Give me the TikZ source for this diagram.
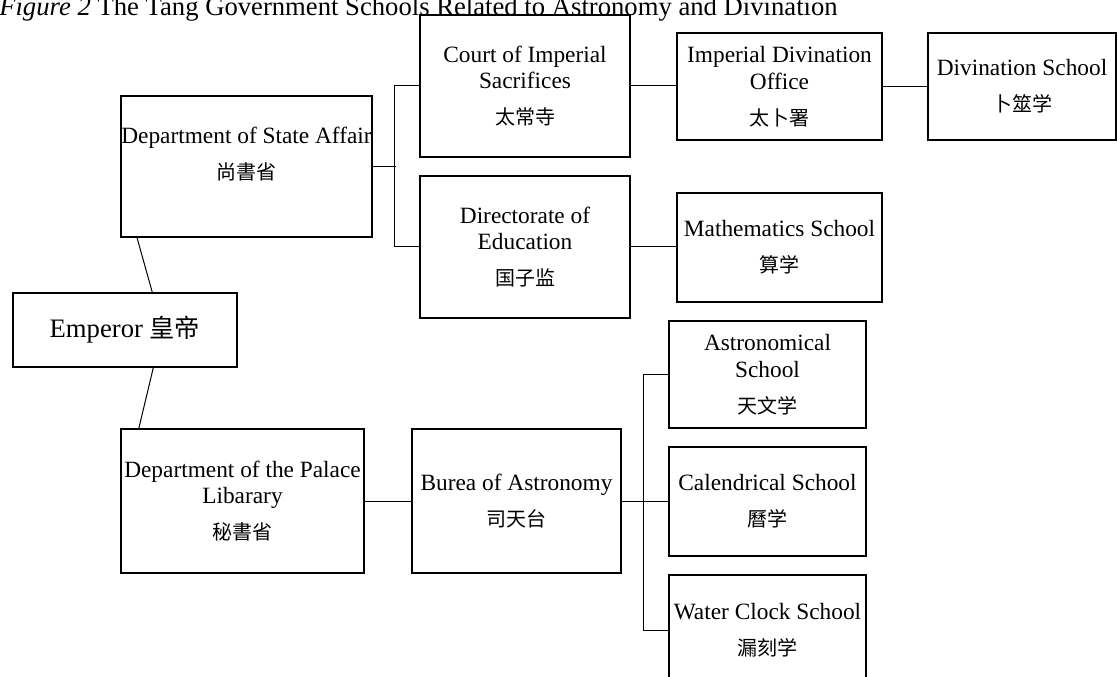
\documentclass[tikz,border=0pt]{standalone}
\usepackage{fontspec}
\setmainfont{Liberation Serif}
\newfontfamily\cjk{Noto Sans CJK SC}
\usetikzlibrary{positioning}
\usetikzlibrary{calc}
\tikzset{bx/.style 2 args={draw, line width=0.9pt, align=center, inner sep=0pt,
  minimum width=#1*0.75pt, minimum height=#2*0.75pt, font=\fontsize{17.5}{20}\selectfont}}
\tikzset{ln/.style={line width=0.75pt}}
\newcommand{\zh}[1]{{\cjk\fontsize{15}{19}\selectfont #1}}

\begin{document}
\begin{tikzpicture}[x=0.75pt,y=-0.75pt]
\useasboundingbox (0,0) rectangle (1117,677);

\node[anchor=base west, inner sep=0pt, font=\fontsize{20}{24}\selectfont] (title) at (-1,15.5)
 {\textit{Figure 2} The Tang Government Schools Related to Astronomy and Divination};

\node[bx={210}{142}] (court) at (525,86) {Court of Imperial\\Sacrifices\\[7pt]\zh{太常寺}};
\node[bx={205}{107}] (divoff) at (779.5,86.5) {Imperial Divination\\Office\\[7pt]\zh{太卜署}};
\node[bx={188}{107}] (divsch) at (1022,86.5) {Divination School\\[7pt]\zh{卜筮学}};
\node[bx={251}{141}] (state) at (246.5,166.5) {Department of State Affair\\[7pt]\zh{尚書省}\\[0pt]\mbox{}};
\node[bx={210}{142}] (direct) at (525,247) {Directorate of\\Education\\[7pt]\zh{国子监}};
\node[bx={205}{109}] (math) at (779.5,247.5) {Mathematics School\\[7pt]\zh{算学}};
\node[bx={224}{74}, font=\fontsize{20}{24}\selectfont] (emp) at (125,330) {Emperor \zh{\fontsize{19}{24}\selectfont 皇帝}};
\node[bx={243}{144}] (palace) at (242.5,501) {Department of the Palace\\Libarary\\[7pt]\zh{秘書省}};
\node[bx={209}{144}] (burea) at (516.5,501) {Burea of Astronomy\\[7pt]\zh{司天台}};
\node[bx={197}{107}] (astro) at (767.5,374.5) {Astronomical\\School\\[7pt]\zh{天文学}};
\node[bx={197}{109}] (cal) at (767.5,501.5) {Calendrical School\\[7pt]\zh{曆学}};
\node[bx={197}{110}] (water) at (767.5,630) {Water Clock School\\[7pt]\zh{漏刻学}};

\draw[ln] (state.213) -- (emp.54);
\draw[ln] (emp.307) -- (palace.145);

\draw[ln] (state.east) -- ++(23,0);
\draw[ln] (court.west) -- ++(-25,0) |- (direct.west);
\draw[ln] (court.east) -- (court.east -| divoff.west);
\draw[ln] (divoff.east) -- (divoff.east -| divsch.west);
\draw[ln] (direct.east) -- (direct.east -| math.west);

\draw[ln] (palace.east) -- (palace.east -| burea.west);
\draw[ln] (burea.east) -- ++(23,0) coordinate (jb);
\draw[ln] (astro.west) -- ++(-25,0) |- (water.west);
\draw[ln] (jb) -- (jb -| cal.west);
\end{tikzpicture}
\end{document}
